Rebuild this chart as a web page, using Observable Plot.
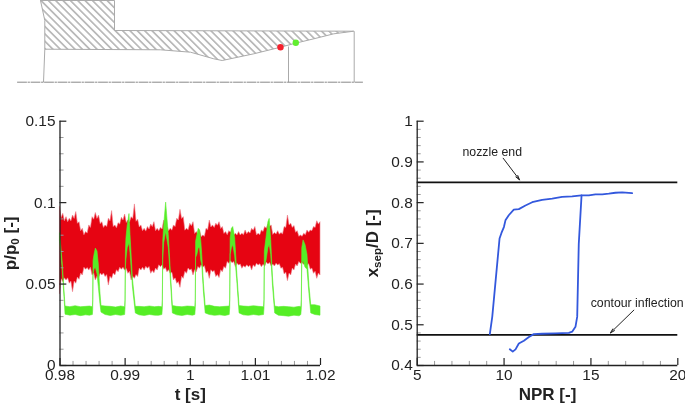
<!DOCTYPE html>
<html><head><meta charset="utf-8">
<script src="https://cdn.jsdelivr.net/npm/d3@7"></script>
<script src="https://cdn.jsdelivr.net/npm/@observablehq/plot@0.6"></script>
<style>
html,body{margin:0;padding:0;background:#fff}
#wrap{position:relative;width:685px;height:404px;overflow:hidden}
#wrap svg{position:absolute;display:block}
#wrap svg.soft{filter:blur(.3px)}
</style></head><body><div id="wrap"></div>
<script>
// ---- nozzle diagram
const wallX=[40,114,114,353.3,333.3,313.3,295,280,253.3,221.7,213.3,190,160,44.3,44.3,40];
const wallY=[0,0,30,30.7,33.3,38.3,42.7,46.7,53.3,60,58.3,51.7,49.3,48.7,20,0];
const axisLineX=[17,362], axisLineY=[81.7,81.7];
const stemX1=[43,288,353.7], stemY1=[81.7,81.7,81.7], stemX2=[44.3,288,353.7], stemY2=[48.7,46,30.7];
const probeX=[280,295.3], probeY=[46.7,42.3], probeColor=["#f5202c","#62ee30"];

// ---- pressure traces
const pTicksY=[0,0.05,0.1,0.15], pMinorY=[0.01,0.02,0.03,0.04,0.06,0.07,0.08,0.09,0.11,0.12,0.13,0.14];
const pTicksX=[0.98,0.99,1,1.01,1.02];
const pMinorX=[0.982,0.984,0.986,0.988,0.992,0.994,0.996,0.998,1.002,1.004,1.006,1.008,1.012,1.014,1.016,1.018];
const redPeakHi=[.0972,.0931,.0911,.0901,.0921,.0942,.0880,.0839,.0819,.0860,
 .0911,.0936,.0921,.0880,.0860,.0901,.0948,.0860,.0874,.0907,
 .0927,.0890,.0911,.0989,.0895,.0860,.0839,.0850,.0866,.0880,
 .0839,.0845,.0890,.0850,.0839,.0860,.0901,.0956,.0911,.0839,
 .0870,.0880,.0819,.0829,.0798,.0839,.0890,.0860,.0870,.0880,
 .0850,.0819,.0825,.0839,.0809,.0819,.0809,.0829,.0819,.0839,
 .0850,.0809,.0829,.0850,.0866,.0860,.0813,.0825,.0813,.0850,
 .0921,.0870,.0856,.0825,.0798,.0809,.0829,.0829,.0850,.0886,.0880];
const redNotchHi=[.0905,.0885,.0880,.0885,.0900,.0870,.0825,.0800,.0810,.0845,
 .0895,.0900,.0868,.0845,.0850,.0885,.0850,.0842,.0865,.0890,
 .0875,.0878,.0900,.0882,.0848,.0825,.0822,.0835,.0850,.0825,
 .0825,.0835,.0840,.0825,.0828,.0850,.0890,.0900,.0828,.0830,
 .0855,.0808,.0805,.0788,.0790,.0830,.0848,.0845,.0858,.0838,
 .0808,.0800,.0815,.0798,.0798,.0798,.0800,.0806,.0810,.0828,
 .0798,.0800,.0820,.0840,.0850,.0802,.0805,.0803,.0805,.0845,
 .0860,.0845,.0815,.0790,.0790,.0800,.0815,.0825,.0845,.0865];
const redPeakLo=[.0440,.0512,.0522,.0502,.0450,.0502,.0526,.0553,.0588,.0583,
 .0553,.0522,.0532,.0553,.0543,.0491,.0532,.0553,.0573,.0588,
 .0583,.0563,.0522,.0532,.0543,.0583,.0583,.0594,.0563,.0567,
 .0583,.0604,.0588,.0573,.0563,.0522,.0502,.0477,.0532,.0563,
 .0583,.0553,.0573,.0594,.0600,.0567,.0532,.0573,.0543,.0537,
 .0573,.0594,.0624,.0628,.0604,.0614,.0594,.0600,.0604,.0583,
 .0604,.0614,.0604,.0608,.0620,.0608,.0608,.0614,.0594,.0559,
 .0518,.0553,.0583,.0608,.0624,.0618,.0614,.0588,.0563,.0532,.0553];
const redNotchLo=[.0530,.0535,.0535,.0515,.0515,.0540,.0565,.0600,.0598,.0600,
 .0565,.0545,.0565,.0565,.0555,.0545,.0565,.0585,.0600,.0600,
 .0592,.0575,.0545,.0555,.0595,.0600,.0606,.0605,.0580,.0595,
 .0615,.0615,.0598,.0585,.0570,.0535,.0512,.0545,.0575,.0595,
 .0590,.0585,.0605,.0615,.0610,.0575,.0585,.0580,.0555,.0585,
 .0605,.0635,.0640,.0635,.0625,.0620,.0610,.0615,.0612,.0615,
 .0625,.0622,.0618,.0632,.0630,.0620,.0625,.0622,.0600,.0570,
 .0565,.0595,.0620,.0635,.0630,.0628,.0622,.0595,.0575,.0565];
const weave=(a,b)=>a.flatMap((v,i)=>i<b.length?[v,b[i]]:[v]);
const redHi=weave(redPeakHi,redNotchHi), redLo=weave(redPeakLo,redNotchLo);
const redT=redHi.map((_,i)=>0.98+i*0.00025);

const greenT=[.9800,.9804,.98075,.98085,.9816,.9824,.9832,.9840,.9846,.98505,
 .9851,.98515,.9853,.9855,.98576,.98596,.9862,.98637,.9870,.9878,.9886,.9894,.9900,
 .99006,.99012,.9902,.9904,.99067,.99083,.9912,.99164,.9922,.9930,.9938,.9946,.9952,.99572,
 .99579,.99585,.9960,.9963,.9965,.99671,.9970,.99733,.9980,.9988,.9996,1.0004,1.00078,
 1.00085,1.0009,1.0011,1.0013,1.0015,1.0017,1.00184,1.0021,1.00237,1.0030,1.0038,1.0046,1.0054,1.00606,
 1.00613,1.0062,1.0064,1.0066,1.0069,1.0072,1.00757,1.0082,1.0090,1.0098,1.0106,1.01133,
 1.0114,1.01145,1.0117,1.0120,1.0122,1.01243,1.0127,1.01304,1.0136,1.0144,1.0152,1.0160,1.0168,1.01706,
 1.01713,1.0172,1.0174,1.0177,1.0180,1.0183,1.01858,1.0192,1.0200];
const greenLo=[.0760,.0600,.0380,.0312,.0306,.0310,.0303,.0308,.0306,.0310,
 .0340,.0560,.0590,.0600,.0560,.0480,.0380,.0325,.0310,.0304,.0310,.0305,.0310,
 .0350,.0600,.0650,.0720,.0750,.0690,.0480,.0320,.0308,.0304,.0310,.0306,.0305,.0310,
 .0350,.0650,.0750,.0820,.0770,.0720,.0540,.0320,.0308,.0304,.0310,.0306,.0310,
 .0350,.0660,.0680,.0720,.0720,.0640,.0620,.0450,.0320,.0310,.0305,.0308,.0304,.0310,
 .0350,.0680,.0720,.0740,.0670,.0530,.0320,.0308,.0305,.0310,.0306,.0310,
 .0350,.0600,.0640,.0720,.0740,.0680,.0490,.0320,.0306,.0303,.0300,.0306,.0302,.0310,
 .0350,.0620,.0640,.0600,.0590,.0440,.0320,.0310,.0306];
const greenHi=[.0810,.0640,.0420,.0362,.0358,.0364,.0358,.0360,.0362,.0358,
 .0400,.0640,.0680,.0718,.0700,.0620,.0450,.0365,.0362,.0360,.0356,.0362,.0358,
 .0400,.0700,.0780,.0860,.0930,.0800,.0530,.0360,.0360,.0358,.0362,.0358,.0360,.0358,
 .0400,.0760,.0860,.1000,.0900,.0800,.0590,.0365,.0360,.0358,.0362,.0360,.0358,
 .0400,.0760,.0800,.0839,.0830,.0760,.0680,.0500,.0365,.0368,.0360,.0358,.0360,.0362,
 .0400,.0780,.0839,.0850,.0780,.0580,.0365,.0362,.0360,.0364,.0360,.0358,
 .0400,.0700,.0780,.0880,.0900,.0770,.0540,.0362,.0358,.0360,.0358,.0355,.0360,.0358,
 .0400,.0720,.0768,.0740,.0680,.0490,.0370,.0370,.0362];

// ---- separation position
const sTicksX=[5,10,15,20], sMinorX=[6,7,8,9,11,12,13,14,16,17,18,19];
const sTicksY=[0.4,0.5,0.6,0.7,0.8,0.9,1];
const sMinorY=[.42,.44,.46,.48,.52,.54,.56,.58,.62,.64,.66,.68,.72,.74,.76,.78,.82,.84,.86,.88,.92,.94,.96,.98];
const upNPR=[10.33,10.5,10.66,10.85,11.14,11.43,11.71,12.19,12.96,13.73,13.92,14.11,14.21,14.3,14.46,14.88,15.26,15.65,16.03,16.41,16.8,17.37];
const upX=[.440,.434,.4395,.454,.461,.470,.477,.478,.479,.480,.483,.495,.520,.699,.8178,.8178,.8203,.8203,.8219,.8243,.8252,.8235];
const downNPR=[14.46,13.92,13.34,12.77,12.19,11.62,11.23,10.85,10.56,10.27,10.08,9.99,9.85,9.74,9.32,9.18];
const downX=[.8178,.8154,.814,.810,.807,.801,.793,.784,.783,.769,.7565,.74,.7255,.712,.5196,.477];
const refLevels=[0.85,0.475];
const noteText=["nozzle end","contour inflection"], noteX=[9.32,17.66], noteY=[.924,.554];
const arrowX1=[9.95,17.47], arrowY1=[.909,.536], arrowX2=[10.89,16.12], arrowY2=[.856,.480];

const ink="#222", font="'Liberation Sans',Arial,sans-serif";
const wrap=document.getElementById("wrap");

function place(svg,left,top,cls){svg.style.left=left+"px";svg.style.top=top+"px";if(cls)svg.classList.add(cls);wrap.appendChild(svg);return svg;}
function subscript(svg,full,before,sub,after){
  d3.select(svg).selectAll("text").filter(function(){return this.textContent===full;}).each(function(){
    const t=d3.select(this).text(null);
    t.append("tspan").text(before);
    t.append("tspan").attr("dy","0.3em").attr("font-size","11.5").text(sub);
    t.append("tspan").attr("dy","-0.2em").text(after);
  });
}
function frame(x0,y0,major,minorX,minorY,tx,ty){
  return [
    Plot.ruleY(minorY,{x1:x0,x2:x0+tx.minor,stroke:"#999",strokeWidth:1}),
    Plot.ruleX(minorX,{y1:y0,y2:y0+ty.minor,stroke:"#999",strokeWidth:1}),
    Plot.ruleY(major.y,{x1:x0,x2:x0+tx.major,stroke:ink,strokeWidth:1.2}),
    Plot.ruleX(major.x,{y1:y0,y2:y0+ty.major,stroke:ink,strokeWidth:1.2}),
    Plot.ruleX([x0],{stroke:ink,strokeWidth:1.3}),
    Plot.ruleY([y0],{stroke:ink,strokeWidth:1.3}),
    Plot.axisX(major.x,{anchor:"bottom",tickSize:0,tickPadding:4,fontSize:15.4,tickFormat:String,label:null,fill:ink}),
    Plot.axisY(major.y,{anchor:"left",tickSize:0,tickPadding:4.5,fontSize:15.4,tickFormat:String,label:null,fill:ink})
  ];
}

// diagram
const hatchDefs=()=>{
  const s=d3.create("svg:defs");
  const p=s.append("pattern").attr("id","hatch").attr("patternUnits","userSpaceOnUse")
    .attr("width",5.2).attr("height",5.2).attr("patternTransform","rotate(-45)");
  p.append("rect").attr("width",5.2).attr("height",5.2).attr("fill","#fff");
  p.append("line").attr("x1",2.6).attr("x2",2.6).attr("y1",0).attr("y2",5.2).attr("stroke","#707070").attr("stroke-width",.85);
  return s.node();
};
place(Plot.plot({
  width:400,height:100,margin:0,
  x:{domain:[0,400],range:[0,400],axis:null},
  y:{domain:[0,100],range:[0,100],axis:null},
  marks:[
    hatchDefs,
    Plot.line(wallX,{x:wallX,y:wallY,fill:"url(#hatch)",stroke:"#aaa",strokeWidth:1}),
    Plot.link(stemX1,{x1:stemX1,y1:stemY1,x2:stemX2,y2:stemY2,stroke:"#aaa",strokeWidth:1}),
    Plot.line(axisLineX,{x:axisLineX,y:axisLineY,stroke:"#888",strokeWidth:1,strokeDasharray:"9,1.5,1.5,1.5"}),
    Plot.dot(probeX,{x:probeX,y:probeY,r:3.2,fill:probeColor,stroke:"none"})
  ]
}),0,0);

// pressure
const pSvg=place(Plot.plot({
  width:340,height:294,marginLeft:59.5,marginRight:20,marginTop:10.7,marginBottom:39,
  style:{fontFamily:font,background:"transparent"},
  x:{domain:[0.98,1.02],axis:null},
  y:{domain:[0,0.15],axis:null},
  marks:[
    Plot.areaY(redT,{x:redT,y1:redLo,y2:redHi,fill:"#e60412",stroke:"#ef7f8c",strokeWidth:.6}),
    Plot.areaY(greenT,{x:greenT,y1:greenLo,y2:greenHi,fill:"#55ee25",stroke:"#5cec30",strokeWidth:.6}),
    ...frame(0.98,0,{x:pTicksX,y:pTicksY},pMinorX,pMinorY,{major:.00105,minor:.00062},{major:.0043,minor:.0025}),
    Plot.text(["p/p0 [-]"],{frameAnchor:"left",textAnchor:"middle",rotate:-90,dx:-49.5,fontSize:17,fontWeight:"bold",fill:ink}),
    Plot.text(["t [s]"],{frameAnchor:"bottom",dy:34,fontSize:17,fontWeight:"bold",fill:ink})
  ]
}),0,110,"soft");
subscript(pSvg,"p/p0 [-]","p/p","0"," [-]");

// separation
const sSvg=place(Plot.plot({
  width:330,height:294,marginLeft:61.7,marginRight:7.7,marginTop:10.7,marginBottom:39,
  style:{fontFamily:font,background:"transparent"},
  x:{domain:[5,20],axis:null},
  y:{domain:[0.4,1],axis:null},
  marks:[
    Plot.ruleY(refLevels,{stroke:"#111",strokeWidth:1.8}),
    Plot.line(upNPR,{x:upNPR,y:upX,stroke:"#3358dd",strokeWidth:1.8}),
    Plot.line(downNPR,{x:downNPR,y:downX,stroke:"#3358dd",strokeWidth:1.8}),
    Plot.arrow(arrowX1,{x1:arrowX1,y1:arrowY1,x2:arrowX2,y2:arrowY2,stroke:"#222",strokeWidth:1,headLength:7,headAngle:30}),
    Plot.text(noteText,{x:noteX,y:noteY,text:d=>d,fontSize:12.3,fill:ink}),
    ...frame(5,0.4,{x:sTicksX,y:sTicksY},sMinorX,sMinorY,{major:.4,minor:.23},{major:.017,minor:.01}),
    Plot.text(["xsep/D [-]"],{frameAnchor:"left",textAnchor:"middle",rotate:-90,dx:-44.7,fontSize:17,fontWeight:"bold",fill:ink}),
    Plot.text(["NPR [-]"],{frameAnchor:"bottom",dy:34,fontSize:17,fontWeight:"bold",fill:ink})
  ]
}),355,110,"soft");
subscript(sSvg,"xsep/D [-]","x","sep","/D [-]");
</script></body></html>
